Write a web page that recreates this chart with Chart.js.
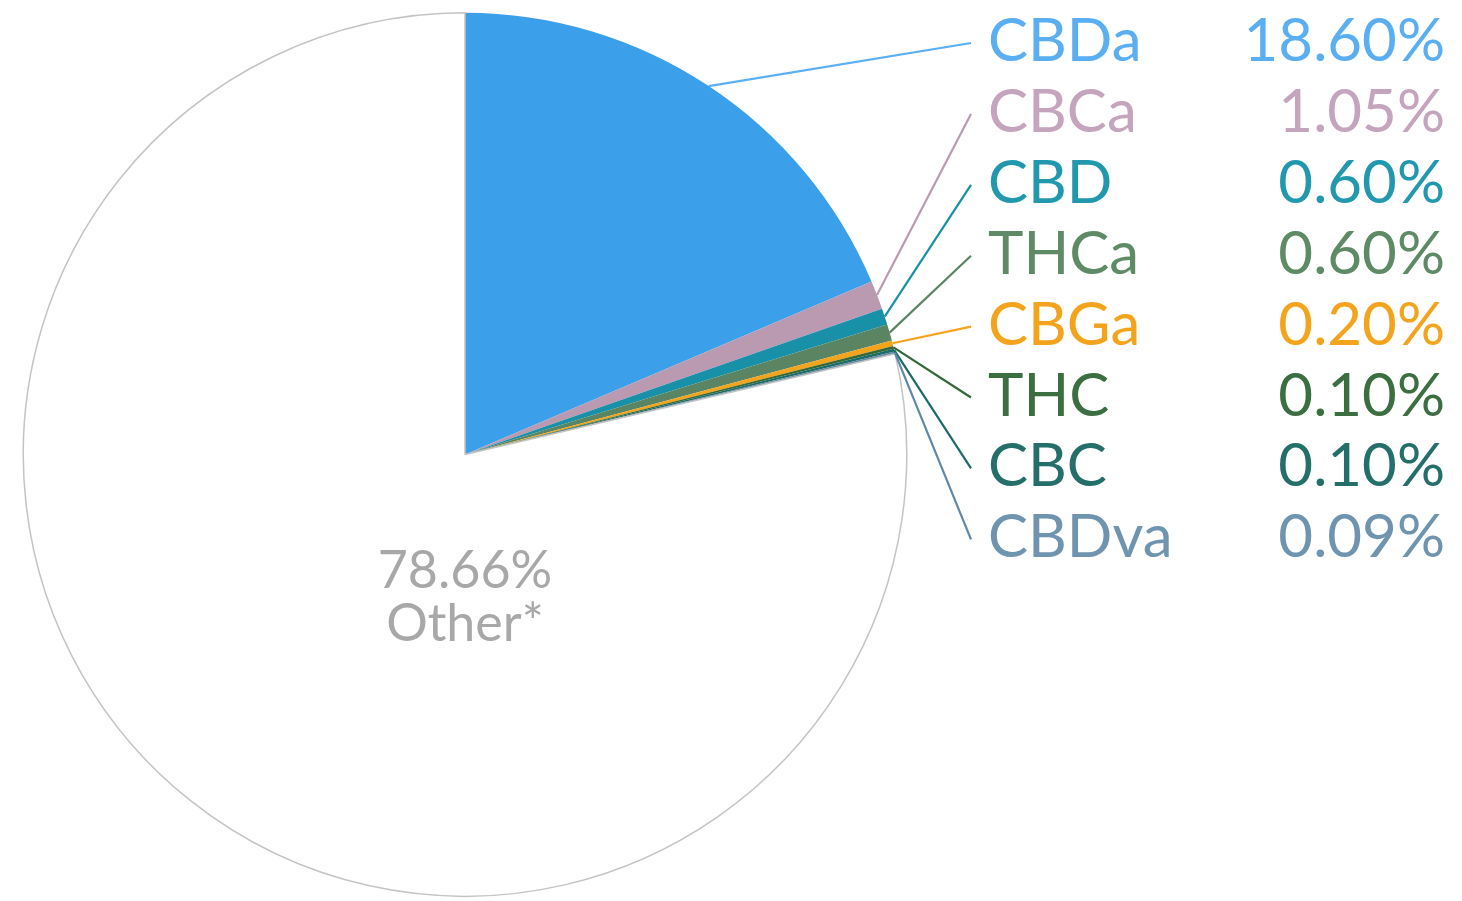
<!DOCTYPE html>
<html>
<head>
<meta charset="utf-8">
<script src="https://cdn.jsdelivr.net/npm/chart.js@4"></script>
<style>
  body { margin: 0; background: #fff; }
  canvas { display: block; }
</style>
</head>
<body>
<canvas id="pieChart" width="1462" height="901"></canvas>
<script>
const labels = ["CBDa", "CBCa", "CBD", "THCa", "CBGa", "THC", "CBC", "CBDva", "Other*"];
const values = [18.60, 1.05, 0.60, 0.60, 0.20, 0.10, 0.10, 0.09, 78.66];
const valueLabels = ["18.60%", "1.05%", "0.60%", "0.60%", "0.20%", "0.10%", "0.10%", "0.09%", "78.66%"];
const sliceColors = ["#3c9fe9", "#b99ab1", "#1790a8", "#5b8463", "#f4a31d", "#336838", "#1d6b66", "#5f87a8", "#ffffff"];
const textColors = ["#5aaef2", "#c5a4bd", "#2298ae", "#5e8a66", "#f4a31d", "#3b6e40", "#246f69", "#6f94b0", "#a8a8a8"];

const FONT = "Lato";

// leader lines + legend text + centre label
const calloutPlugin = {
  id: "callouts",
  afterDatasetsDraw(chart) {
    const ctx = chart.ctx;
    const arcs = chart.getDatasetMeta(0).data;
    const lineX = 971;
    const labelX = 988;
    const valueX = 1445;

    ctx.save();
    arcs.forEach((arc, i) => {
      if (labels[i] === "Other*") return;
      const baseY = 61 + i * 70.9;
      const mid = (arc.startAngle + arc.endAngle) / 2;
      const sx = arc.x + Math.cos(mid) * arc.outerRadius;
      const sy = arc.y + Math.sin(mid) * arc.outerRadius;

      ctx.strokeStyle = i === 0 ? "#5aaef2" : sliceColors[i];
      ctx.lineWidth = 2.2;
      ctx.beginPath();
      ctx.moveTo(sx, sy);
      ctx.lineTo(lineX, baseY - 18);
      ctx.stroke();

      ctx.fillStyle = textColors[i];
      ctx.font = `400 60px ${FONT}`;
      ctx.textBaseline = "alphabetic";
      ctx.textAlign = "left";
      ctx.fillText(labels[i], labelX, baseY);
      ctx.textAlign = "right";
      ctx.fillText(valueLabels[i], valueX, baseY);
    });

    // centre label for the big slice
    const o = arcs.length - 1;
    const cx = arcs[o].x;
    ctx.fillStyle = textColors[o];
    ctx.font = `400 52px ${FONT}`;
    ctx.textAlign = "center";
    ctx.fillText(valueLabels[o], cx, 588);
    ctx.fillText(labels[o], cx, 641);
    ctx.restore();
  }
};

new Chart(document.getElementById("pieChart"), {
  type: "pie",
  data: {
    labels,
    datasets: [{
      data: values,
      backgroundColor: sliceColors,
      borderColor: sliceColors.map((c, i) => labels[i] === "Other*" ? "#c4c4c4" : c),
      borderWidth: sliceColors.map((c, i) => labels[i] === "Other*" ? 1.5 : 0),
      hoverOffset: 0,
      offset: 0
    }]
  },
  options: {
    responsive: false,
    animation: false,
    events: [],
    layout: { padding: { left: 22, top: 12, right: 554, bottom: 4 } },
    plugins: {
      legend: { display: false },
      tooltip: { enabled: false }
    }
  },
  plugins: [calloutPlugin]
});
</script>
</body>
</html>
